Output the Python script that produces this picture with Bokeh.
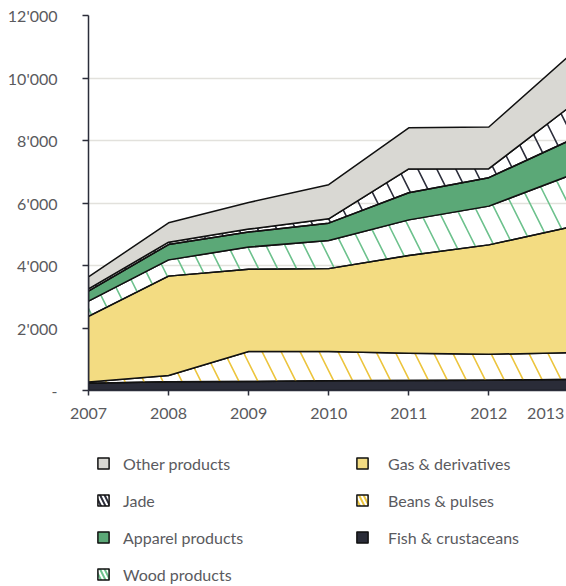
import numpy as np
from bokeh.plotting import figure
from bokeh.layouts import column
from bokeh.models import (Range1d, FixedTicker, Legend, LegendItem)
from bokeh.embed import file_html
from bokeh.resources import INLINE

years = [2007, 2008, 2009, 2010, 2011, 2012, 2013]
fish = [230, 280, 290, 310, 320, 330, 350]
beans = [40, 200, 960, 940, 870, 830, 860]
gas = [2100, 3180, 2630, 2650, 3130, 3500, 4010]
wood = [490, 520, 710, 900, 1140, 1240, 1650]
apparel = [320, 490, 480, 555, 870, 910, 1120]
jade = [75, 75, 95, 140, 760, 290, 1070]
other = [380, 620, 850, 1090, 1315, 1330, 1650]

y_ticks = [0, 2000, 4000, 6000, 8000, 10000, 12000]
legend_col1 = ["Other products", "Jade", "Apparel products", "Wood products"]
legend_col2 = ["Gas & derivatives", "Beans & pulses", "Fish & crustaceans"]

# the last year's label sits left of its (clipped) tick, as in the original
LAST_LABEL_POS = 2012.71

series = [
    ("Fish & crustaceans", fish, dict(fill_color="#2a2c38")),
    ("Beans & pulses", beans, dict(fill_alpha=0, hatch_pattern="\\", hatch_color="#ecc43c")),
    ("Gas & derivatives", gas, dict(fill_color="#f3dc82")),
    ("Wood products", wood, dict(fill_alpha=0, hatch_pattern="\\", hatch_color="#6cc18c")),
    ("Apparel products", apparel, dict(fill_color="#5ba877")),
    ("Jade", jade, dict(fill_alpha=0, hatch_pattern="\\", hatch_color="#2b2d3a")),
    ("Other products", other, dict(fill_color="#d9d8d3")),
]

FONT = "Lato"
TXT = "#5a5a5e"
AX = "#2b2d3a"


def style_kw(style, scale=38, weight=1.6):
    kw = dict(line_color="#111111", line_width=1.5, line_join="round")
    if "hatch_pattern" in style:
        kw.update(hatch_scale=scale, hatch_weight=weight)
    kw.update(style)
    return kw


# stacked polygons from the series
x = np.array(years, dtype=float)
base = np.zeros(len(years))
polys = []
for name, vals, style in series:
    top = base + np.array(vals, dtype=float)
    polys.append((name, list(x) + list(x[::-1]), list(top) + list(base[::-1]), style))
    base = top

p = figure(width=566, height=430, output_backend="svg", toolbar_location=None,
           x_range=Range1d(2007, 2012.97), y_range=Range1d(0, 12000),
           min_border_left=88, min_border_right=0, min_border_top=15,
           min_border_bottom=40)
p.outline_line_color = None
p.xgrid.grid_line_color = None
p.ygrid.grid_line_color = "#e2e1dc"
p.ygrid.grid_line_width = 1.6
p.ygrid.ticker = FixedTicker(ticks=y_ticks)

for name, xs, ys, style in polys:
    p.patch(xs, ys, **style_kw(style))

# y axis
p.yaxis.ticker = FixedTicker(ticks=y_ticks)
p.yaxis.major_label_overrides = {t: ("-" if t == 0 else f"{t:,}".replace(",", "'")) for t in y_ticks}
p.yaxis.axis_line_color = AX
p.yaxis.axis_line_width = 1.5
p.yaxis.major_tick_line_color = AX
p.yaxis.major_tick_line_width = 1.5
p.yaxis.major_tick_out = 6
p.yaxis.major_tick_in = 0
p.yaxis.minor_tick_line_color = None
p.yaxis.major_label_standoff = 25
p.yaxis.major_label_text_font = FONT
p.yaxis.major_label_text_font_size = "16px"
p.yaxis.major_label_text_color = TXT

# x axis: labels on major ticks (last one shifted), tick marks on minor ticks
label_ticks = years[:-1] + [LAST_LABEL_POS]
p.xaxis.ticker = FixedTicker(ticks=label_ticks, minor_ticks=years)
p.xaxis.major_label_overrides = {LAST_LABEL_POS: str(years[-1])}
p.xaxis.axis_line_color = AX
p.xaxis.axis_line_width = 1.5
p.xaxis.major_tick_line_color = None
p.xaxis.major_tick_out = 5
p.xaxis.major_tick_in = 0
p.xaxis.minor_tick_line_color = AX
p.xaxis.minor_tick_line_width = 1.5
p.xaxis.minor_tick_out = 5
p.xaxis.minor_tick_in = 0
p.xaxis.major_label_standoff = 12
p.xaxis.major_label_text_font = FONT
p.xaxis.major_label_text_font_size = "16px"
p.xaxis.major_label_text_color = TXT

# legend panel (its copies of the areas lie outside its own view)
q = figure(width=566, height=156, output_backend="svg", toolbar_location=None,
           x_axis_type=None, y_axis_type=None,
           x_range=Range1d(0, 1), y_range=Range1d(0, 1),
           min_border_left=0, min_border_right=0, min_border_top=0, min_border_bottom=0)
q.outline_line_color = None
q.xgrid.grid_line_color = None
q.ygrid.grid_line_color = None
leg_r = {}
for name, xs, ys, style in polys:
    leg_r[name] = q.patch(xs, ys, **style_kw(style, scale=9, weight=2))


def make_legend(names, loc, standoff):
    lg = Legend(items=[LegendItem(label=n, renderers=[leg_r[n]]) for n in names],
                location=loc, orientation="vertical")
    lg.glyph_width = 14
    lg.glyph_height = 14
    lg.label_height = 20
    lg.spacing = 17
    lg.padding = 0
    lg.margin = 0
    lg.label_standoff = standoff
    lg.border_line_color = None
    lg.background_fill_alpha = 0
    lg.label_text_font = FONT
    lg.label_text_font_size = "16px"
    lg.label_text_color = TXT
    return lg


q.add_layout(make_legend(legend_col1, (8, 2), 13))
q.add_layout(make_legend(legend_col2, (267, 39), 19))

open("out.html", "w").write(file_html(column(p, q, spacing=0), INLINE))
